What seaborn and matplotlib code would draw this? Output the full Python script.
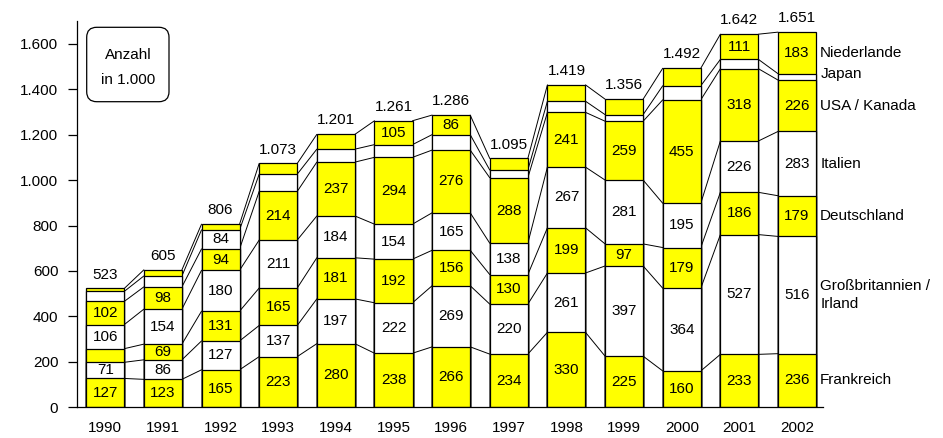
import numpy as np
import matplotlib
matplotlib.use("Agg")
import matplotlib.pyplot as plt
import seaborn as sns
from matplotlib.patches import FancyBboxPatch
from matplotlib.ticker import FuncFormatter, FixedLocator
from matplotlib.transforms import IdentityTransform

years = ["1990", "1991", "1992", "1993", "1994", "1995", "1996",
         "1997", "1998", "1999", "2000", "2001", "2002"]
frankreich = [127, 123, 165, 223, 280, 238, 266, 234, 330, 225, 160, 233, 236]
grossbritannien = [71, 86, 127, 137, 197, 222, 269, 220, 261, 397, 364, 527, 516]
deutschland = [60, 69, 131, 165, 181, 192, 156, 130, 199, 97, 179, 186, 179]
italien = [106, 154, 180, 211, 184, 154, 165, 138, 267, 281, 195, 226, 283]
usa_kanada = [102, 98, 94, 214, 237, 294, 276, 288, 241, 259, 455, 318, 226]
japan = [44, 48, 84, 76, 57, 56, 68, 34, 49, 29, 62, 41, 28]
niederlande = [13, 27, 25, 47, 65, 105, 86, 51, 72, 68, 77, 111, 183]
totals = [523, 605, 806, 1073, 1201, 1261, 1286, 1095, 1419, 1356, 1492, 1642, 1651]

series_names = ["Frankreich", "Großbritannien /\nIrland", "Deutschland", "Italien",
                "USA / Kanada", "Japan", "Niederlande"]
series = [frankreich, grossbritannien, deutschland, italien, usa_kanada, japan, niederlande]
colors = ["#FFFF00", "#FFFFFF", "#FFFF00", "#FFFFFF", "#FFFF00", "#FFFFFF", "#FFFF00"]
# smallest value that still gets a number printed inside its segment
min_label = [65, 65, 65, 65, 65, 80, 80]

sns.set_style("white")
plt.rcParams["font.family"] = ["Liberation Sans", "DejaVu Sans"]
plt.rcParams["font.size"] = 11
plt.rcParams["text.color"] = "black"
plt.rcParams["xtick.color"] = "black"
plt.rcParams["ytick.color"] = "black"
plt.rcParams["axes.labelcolor"] = "black"

FS = 11
fig = plt.figure(figsize=(9.43, 4.38), dpi=100)
W, H = 943, 438
ax = fig.add_axes([77 / W, 1 - 407.3 / H, (823 - 77) / W, (407.3 - 21) / H])

vals = np.array(series)
cum = np.cumsum(vals, axis=0)
bar_w = 0.66

# stack by overpainting cumulative heights, tallest first
for k in range(len(series) - 1, -1, -1):
    sns.barplot(x=years, y=cum[k], color=colors[k], saturation=1, width=bar_w,
                edgecolor="black", linewidth=0.9, errorbar=None, ax=ax, zorder=2)

# connector lines between neighbouring bars at every segment boundary
n = len(years)
for k in range(len(series)):
    for i in range(n - 1):
        ax.plot([i + bar_w / 2, i + 1 - bar_w / 2], [cum[k][i], cum[k][i + 1]],
                color="black", lw=0.7, zorder=1)

# segment values
for k in range(len(series)):
    for i in range(n):
        v = series[k][i]
        if v >= min_label[k]:
            bottom = cum[k][i] - v
            ax.text(i, bottom + v / 2, str(v), ha="center", va="center",
                    fontsize=FS, zorder=5)

def de_fmt(v):
    return f"{int(v):,}".replace(",", ".")

# totals above bars
for i, t in enumerate(totals):
    ax.annotate(de_fmt(t), (i, cum[-1][i]), xytext=(0, 5), textcoords="offset points",
                ha="center", va="bottom", fontsize=FS)

# series names beside the last bar
for k, name in enumerate(series_names):
    v = series[k][-1]
    mid = cum[k][-1] - v / 2
    dy = 2 if k == 5 else 0
    ax.annotate(name, (n - 1 + bar_w / 2, mid), xytext=(3, dy), textcoords="offset points",
                ha="left", va="center", fontsize=FS, annotation_clip=False,
                linespacing=1.4)

ax.set_xlim(-0.49, 12.45)
ax.set_ylim(0, 1700)
ax.yaxis.set_major_locator(FixedLocator(range(0, 1601, 200)))
ax.yaxis.set_major_formatter(FuncFormatter(lambda v, p: de_fmt(v)))
ax.set_xlabel("")
ax.set_ylabel("")
ax.tick_params(axis="y", direction="out", length=6.5, width=0.9, pad=7, labelsize=FS,
               left=True, color="black", labelcolor="black")
ax.tick_params(axis="x", length=0, pad=10, labelsize=FS, labelcolor="black")
for s in ["top", "right"]:
    ax.spines[s].set_visible(False)
for s in ["left", "bottom"]:
    ax.spines[s].set_color("black")
    ax.spines[s].set_linewidth(0.9)

# unit box in the upper left
box = FancyBboxPatch((86.7, H - 101.7), 82.3, 74.4,
                     boxstyle="round,pad=0,rounding_size=10",
                     transform=IdentityTransform(), fc="white", ec="black", lw=0.9)
fig.add_artist(box)
fig.text(128, H - 55, "Anzahl", transform=IdentityTransform(), ha="center", va="center",
         fontsize=FS)
fig.text(128, H - 80, "in 1.000", transform=IdentityTransform(), ha="center", va="center",
         fontsize=FS)

fig.savefig("out.png", dpi=100)
